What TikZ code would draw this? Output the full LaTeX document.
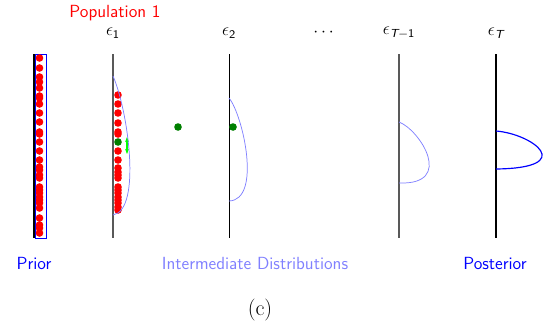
\documentclass[tikz,border=0pt]{standalone}
\usepackage{amsmath}
\usepackage{tikz}
\usetikzlibrary{arrows.meta}

\begin{document}
\begin{tikzpicture}[x=0.024cm, y=-0.024cm,
    every node/.style={font=\sffamily\fontsize{12}{14}\selectfont},
    sample/.style={circle, fill=red, inner sep=0pt, minimum size=5.2pt},
    moved/.style={circle, fill=green!50!black, inner sep=0pt, minimum size=5.2pt},
    density/.style={blue!50, line width=0.5pt}]
  \useasboundingbox (0,0) rectangle (546,324);
  % axes
  \coordinate (p0t) at (34,54);   \coordinate (p0b) at (34,238);
  \coordinate (e1t) at (113,54);  \coordinate (e1b) at (113,238);
  \coordinate (e2t) at (229,54);  \coordinate (e2b) at (229,238);
  \coordinate (eLt) at (399,54);  \coordinate (eLb) at (399,238);
  \coordinate (eTt) at (496,54);  \coordinate (eTb) at (496,238);
  \draw[line width=0.9pt] (p0t) -- (p0b);
  \draw[gray!70!black, line width=0.7pt] (e1t) -- (e1b);
  \draw[line width=0.5pt] (e2t) -- (e2b);
  \draw[gray!70!black, line width=0.7pt] (eLt) -- (eLb);
  \draw[line width=1.1pt] (eTt) -- (eTb);
  % prior box and samples
  \draw[blue, line width=0.6pt] (35,54) rectangle (46.5,238);
  \foreach \y in {58,68,77,82,88,96,98,104,113,122,132,134,142,151,160,167,170,175,178,187,190,193,197,200,203,208,218,225,228,233}
    \node[sample] at (39.5,\y) {};
  % population 1
  \foreach \y in {95,104,113,123,132,134,151,160,168,172,175,178,187,190,193,197,200,203,207,210}
    \node[sample] at (118,\y) {};
  \node[moved] (g1) at (118,142) {};
  \coordinate (gt) at (127,137);
  \coordinate (gb) at (127,154);
  \draw[green, line width=0.8pt, {Stealth[length=3.5pt]}-{Stealth[length=3.5pt]}] (gt) -- (gb);
  \node[moved] (g2) at (178,127) {};
  \node[moved] (g3) at (233,127) {};
  % densities
  \draw[density] (e1t |- 0,76) .. controls (128,110) and (142,210) .. (e1t |- 0,215);
  \draw[density] (e2t |- 0,98) .. controls (243,115) and (262,200) .. (e2t |- 0,201);
  \draw[density] (eLt |- 0,122) .. controls (420,130) and (455,185) .. (eLt |- 0,183);
  \draw[blue, line width=0.8pt] (eTt |- 0,131) .. controls (533,134) and (578,168) .. (eTt |- 0,169);
  % labels
  \node[text=red] (pop) at (115,13) {Population 1};
  \node (l1) at (113,33) {$\epsilon_{\textsf{1}}$};
  \node (l2) at (229,33) {$\epsilon_{\textsf{2}}$};
  \node (ldots) at (325,33) {$\cdots$};
  \node (lL) at (399,33) {$\epsilon_{\textsf{\slshape T}-\textsf{1}}$};
  \node (lT) at (496,33) {$\epsilon_{\textsf{\slshape T}}$};
  \node[text=blue] (prior) at (34,263) {Prior};
  \node[text=blue!50] (inter) at (255,263) {Intermediate Distributions};
  \node[text=blue] (post) at (495,263) {Posterior};
  \node[font=\rmfamily\fontsize{15}{17}\selectfont] (cap) at (260,310) {(c)};
\end{tikzpicture}
\end{document}
